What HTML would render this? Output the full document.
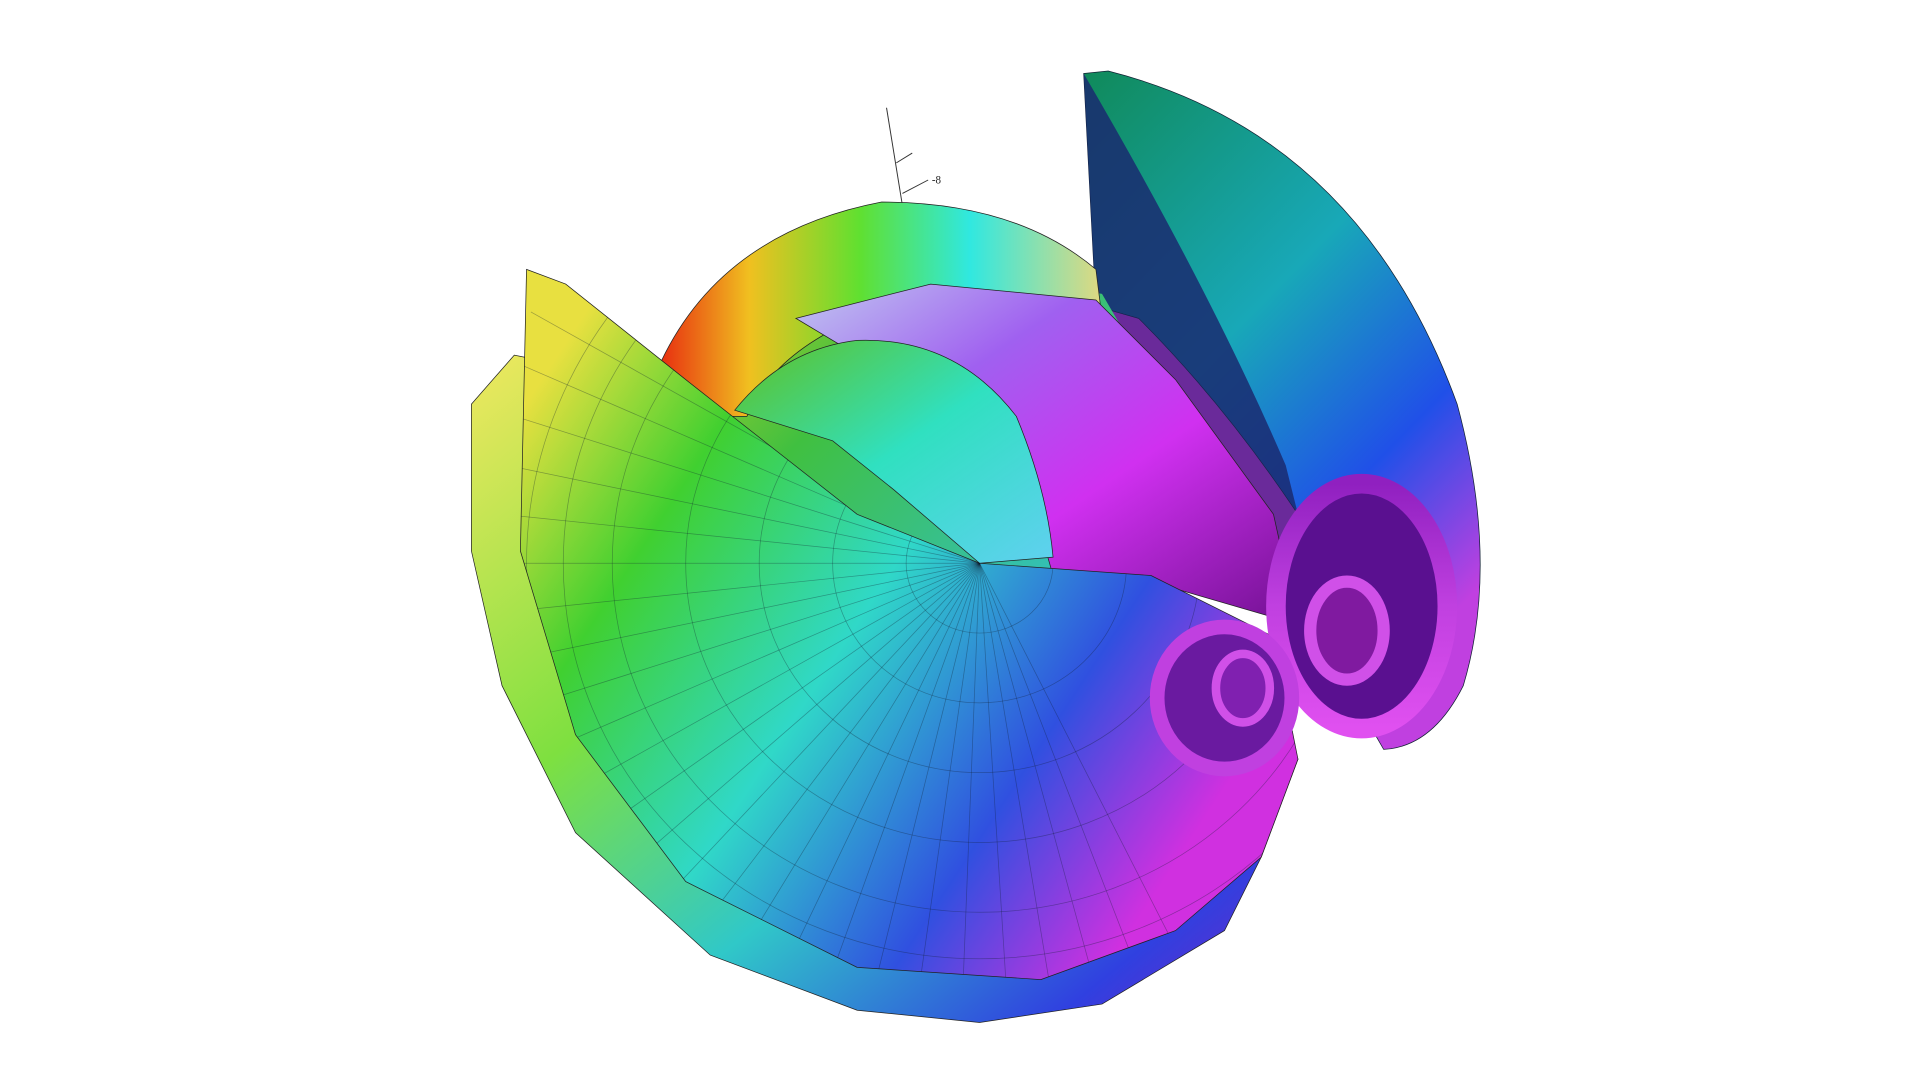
<!DOCTYPE html>
<html><head><meta charset="utf-8"><style>
html,body{margin:0;padding:0;background:#fff;width:1920px;height:1080px;overflow:hidden}
svg{display:block}
</style></head><body>
<svg width="1920" height="1080" viewBox="0 0 1568 882" overflow="hidden" xmlns="http://www.w3.org/2000/svg">
<defs>
<linearGradient id="gRim" x1="0" y1="0" x2="1" y2="1"><stop offset="0" stop-color="#f0e860"/><stop offset="0.35" stop-color="#7ee040"/><stop offset="0.6" stop-color="#30c8c8"/><stop offset="0.85" stop-color="#3040e0"/><stop offset="1" stop-color="#8020c0"/></linearGradient>
<linearGradient id="gBowl" x1="0" y1="0.2" x2="1" y2="0.8"><stop offset="0" stop-color="#e8e040"/><stop offset="0.2" stop-color="#40d030"/><stop offset="0.45" stop-color="#30d8c8"/><stop offset="0.7" stop-color="#3050e0"/><stop offset="0.9" stop-color="#d030e0"/></linearGradient>
<linearGradient id="gFin" x1="0" y1="0" x2="0.6" y2="1"><stop offset="0" stop-color="#108a5a"/><stop offset="0.45" stop-color="#18a8b8"/><stop offset="0.75" stop-color="#2050e8"/><stop offset="1" stop-color="#c040e0"/></linearGradient>
<linearGradient id="gArch" x1="0" y1="0" x2="1" y2="0"><stop offset="0" stop-color="#e83010"/><stop offset="0.2" stop-color="#f0c020"/><stop offset="0.45" stop-color="#60e030"/><stop offset="0.7" stop-color="#30e8e0"/><stop offset="1" stop-color="#e0d880"/></linearGradient>
<linearGradient id="gMag" x1="0" y1="0" x2="1" y2="1"><stop offset="0" stop-color="#c0c8f0"/><stop offset="0.3" stop-color="#a060f0"/><stop offset="0.6" stop-color="#d030f0"/><stop offset="1" stop-color="#701090"/></linearGradient>
<linearGradient id="gInner" x1="0" y1="0" x2="1" y2="1"><stop offset="0" stop-color="#60c020"/><stop offset="0.5" stop-color="#30e0c0"/><stop offset="1" stop-color="#60d0f0"/></linearGradient>
<linearGradient id="gFill" x1="0" y1="0" x2="1" y2="0.5"><stop offset="0" stop-color="#d0d020"/><stop offset="0.4" stop-color="#40c040"/><stop offset="1" stop-color="#30c0d0"/></linearGradient>
<linearGradient id="gSpiral" x1="0" y1="0" x2="0" y2="1"><stop offset="0" stop-color="#9020c0"/><stop offset="0.5" stop-color="#c040e0"/><stop offset="1" stop-color="#e050f0"/></linearGradient>
<clipPath id="cBowl"><path id="bowlPath" d="M430,220 L462,232 L560,310 L700,420 L800,460 L940,470 L1040,520 L1060,620 L1030,700 L960,760 L850,800 L700,790 L560,720 L470,600 L425,450 Z"/></clipPath>
</defs>
<g stroke="#333" stroke-width="0.8">
<line x1="724" y1="88" x2="737" y2="168"/><line x1="732" y1="133" x2="745" y2="125"/><line x1="737" y1="158" x2="758" y2="147"/>
</g>
<text x="761" y="150" font-family="Liberation Serif, serif" font-size="9" fill="#222">-8</text>
<path d="M890,240 L935,255 Q1010,330 1065,420 L1075,520 L1040,500 L1040,420 Z" fill="#6a2a9a"/>
<path d="M885,60 L905,58 Q1110,110 1190,330 Q1225,460 1195,560 Q1170,610 1130,612 L1100,560 L1060,420 Q1000,330 930,260 L895,250 Z" fill="url(#gFin)" stroke="#123" stroke-width="0.6"/>
<path d="M885,60 L895,250 L930,260 Q1000,330 1060,420 L1050,380 Q990,240 885,60 Z" fill="#1a2a70" opacity="0.85"/>
<path d="M385,330 L420,290 L470,300 L520,420 L600,560 L720,650 L860,690 L1000,640 L1060,620 L1030,700 L1000,760 L900,820 L800,835 L700,825 L580,780 L470,680 L410,560 L385,450 Z" fill="url(#gRim)" stroke="#222" stroke-width="0.6"/>
<path d="M540,295 L640,230 L760,215 L900,240 L1040,480 L940,470 L800,460 L700,420 L560,310 Z" fill="url(#gFill)"/>
<path d="M540,295 Q590,190 720,165 Q830,165 895,220 L900,260 Q800,230 700,260 Q630,290 610,340 L560,340 Z" fill="url(#gArch)" stroke="#222" stroke-width="0.6"/>
<path d="M650,260 L760,232 L895,245 L960,310 L1040,420 L1060,510 L940,475 L860,470 L840,400 L780,320 L700,290 Z" fill="url(#gMag)" stroke="#222" stroke-width="0.6"/>
<path d="M600,335 Q640,285 700,278 Q780,275 830,340 Q855,400 860,455 L800,460 L730,400 L680,360 Z" fill="url(#gInner)" stroke="#222" stroke-width="0.6"/>
<use href="#bowlPath" fill="url(#gBowl)" stroke="#222" stroke-width="0.6"/>
<g id="mesh" clip-path="url(#cBowl)" stroke="#102030" stroke-opacity="0.35" stroke-width="0.6" fill="none"></g>
<g>
<ellipse cx="1112" cy="495" rx="70" ry="100" fill="#5a1090" stroke="url(#gSpiral)" stroke-width="16"/>
<ellipse cx="1100" cy="515" rx="30" ry="40" fill="#801aa0" stroke="#d050e8" stroke-width="10"/>
<ellipse cx="1000" cy="570" rx="55" ry="58" fill="#6a1aa0" stroke="#c040e0" stroke-width="12"/>
<ellipse cx="1015" cy="562" rx="22" ry="28" fill="#8020b0" stroke="#d050e8" stroke-width="7"/>
</g>
<script>
const radialAngles=[0,1,2,3,4,5,6,7,8,9,10,11,12,13,14,15,16,17,18,19,20,21,22,23,24,25,26,27,28,29,30,31,32,33,34,35,36,37,38,39];
const ringRadii=[60,120,180,240,300,340,370];
const m=document.getElementById('mesh');
const ns='http://www.w3.org/2000/svg';
radialAngles.forEach(a=>{const t=Math.PI*0.35+a*Math.PI*1.3/radialAngles.length;
const l=document.createElementNS(ns,'line');


l.setAttribute('x1',800);l.setAttribute('y1',460);
l.setAttribute('x2',800+420*Math.cos(t));l.setAttribute('y2',Math.min(880,460+420*Math.sin(t)));m.appendChild(l);});
ringRadii.forEach(r=>{const c=document.createElementNS(ns,'ellipse');


c.setAttribute('cx',800);c.setAttribute('cy',460);c.setAttribute('rx',r);c.setAttribute('ry',r*0.95);m.appendChild(c);});
</script>
</svg>
</body></html>
